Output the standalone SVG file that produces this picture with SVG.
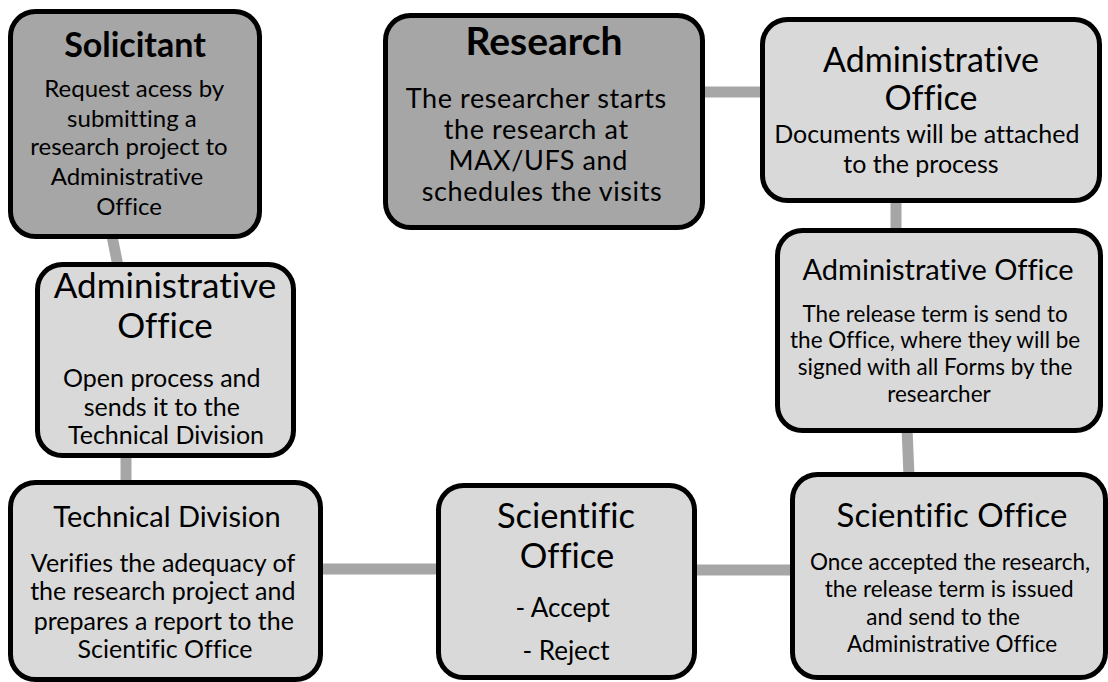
<svg xmlns="http://www.w3.org/2000/svg" width="1108" height="682" viewBox="0 0 1108 682">
  <style>
    .box { stroke: #000; stroke-width: 5; }
    .dark { fill: #a6a6a6; }
    .light { fill: #d9d9d9; }
    .link { stroke: #a6a6a6; stroke-width: 11; fill: none; }
    text { font-family: Lato, "Open Sans", sans-serif; fill: #000; text-anchor: middle; font-variant-ligatures: none; }
    .title { font-weight: bold; }
  </style>
  <rect width="1108" height="682" fill="#fff"/>

  <!-- connectors drawn beneath the boxes -->
  <g id="connectors">
    <line class="link" x1="112" y1="236" x2="118" y2="266"/>
    <line class="link" x1="126" y1="455" x2="126" y2="484"/>
    <line class="link" x1="320" y1="569" x2="440" y2="569"/>
    <line class="link" x1="694" y1="570" x2="794" y2="570"/>
    <line class="link" x1="907" y1="428" x2="909" y2="476"/>
    <line class="link" x1="896" y1="198" x2="896" y2="233"/>
    <line class="link" x1="700" y1="92" x2="765" y2="92"/>
  </g>

  <g id="solicitant">
    <rect class="box dark" x="10.5" y="11.5" width="249" height="225" rx="25"/>
    <text class="title" x="135" y="57" font-size="34">Solicitant</text>
    <text font-size="24">
      <tspan x="137" y="97">Request  acess by</tspan>
      <tspan x="135" y="127">submitting a</tspan>
      <tspan x="132" y="155">research project to</tspan>
      <tspan x="130" y="185">Administrative</tspan>
      <tspan x="129" y="215">Office</tspan>
    </text>
  </g>

  <g id="research">
    <rect class="box dark" x="385.5" y="15.5" width="317" height="212" rx="25"/>
    <text class="title" x="544" y="55" font-size="39">Research</text>
    <text font-size="27" letter-spacing="0.6">
      <tspan x="540" y="108">The researcher starts</tspan>
      <tspan x="540" y="139">the research at</tspan>
      <tspan x="542" y="170">MAX/UFS and</tspan>
      <tspan x="542" y="201">schedules the visits</tspan>
    </text>
  </g>

  <g id="admin-documents">
    <rect class="box light" x="762.5" y="19.5" width="337" height="181" rx="25"/>
    <text x="931" y="72" font-size="34">Administrative</text>
    <text x="931" y="110" font-size="34">Office</text>
    <text font-size="25">
      <tspan x="930" y="143">Documents will be attached</tspan>
      <tspan x="921" y="173">to the process</tspan>
    </text>
  </g>

  <g id="admin-release">
    <rect class="box light" x="777.5" y="230.5" width="323" height="200" rx="25"/>
    <text x="938" y="280" font-size="29">Administrative Office</text>
    <text font-size="22.5">
      <tspan x="938" y="322">The release term is send to</tspan>
      <tspan x="938" y="348">the Office, where they will be</tspan>
      <tspan x="938" y="375">signed with all Forms by the</tspan>
      <tspan x="939" y="402">researcher</tspan>
    </text>
  </g>

  <g id="admin-open">
    <rect class="box light" x="37.5" y="264.5" width="256" height="191" rx="25"/>
    <text x="165" y="298" font-size="35">Administrative</text>
    <text x="165" y="338" font-size="35">Office</text>
    <text font-size="25">
      <tspan x="165" y="387">Open process and</tspan>
      <tspan x="165" y="416">sends it to the</tspan>
      <tspan x="166" y="444">Technical Division</tspan>
    </text>
  </g>

  <g id="technical-division">
    <rect class="box light" x="10.5" y="482.5" width="310" height="197" rx="25"/>
    <text x="167" y="527" font-size="29">Technical Division</text>
    <text font-size="25">
      <tspan x="166" y="572">Verifies the adequacy of</tspan>
      <tspan x="166" y="600">the research project and</tspan>
      <tspan x="167" y="630">prepares a report to the</tspan>
      <tspan x="165" y="658">Scientific Office</tspan>
    </text>
  </g>

  <g id="scientific-decision">
    <rect class="box light" x="438.5" y="485.5" width="256" height="192" rx="25"/>
    <text x="566" y="528" font-size="34.5">Scientific</text>
    <text x="567" y="568" font-size="34.5">Office</text>
    <text font-size="26">
      <tspan x="566" y="617">- Accept</tspan>
      <tspan x="566" y="660">- Reject</tspan>
    </text>
  </g>

  <g id="scientific-release">
    <rect class="box light" x="792.5" y="474.5" width="313" height="203" rx="25"/>
    <text x="952" y="527" font-size="33">Scientific Office</text>
    <text font-size="22.5">
      <tspan x="953" y="570">Once accepted the research,</tspan>
      <tspan x="952" y="597">the release term is issued</tspan>
      <tspan x="946" y="625">and send to the</tspan>
      <tspan x="952" y="652">Administrative Office</tspan>
    </text>
  </g>
</svg>
